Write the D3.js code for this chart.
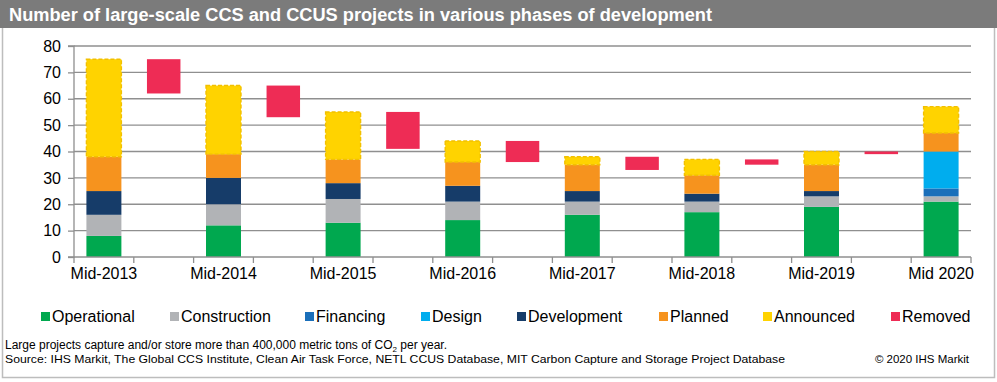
<!DOCTYPE html>
<html>
<head>
<meta charset="utf-8">
<script src="https://cdn.jsdelivr.net/npm/d3@7"></script>
<style>
  html, body { margin: 0; padding: 0; background: #fff; }
  svg { display: block; }
</style>
</head>
<body>
<svg id="chart" width="997" height="382"></svg>
<script>
// ---------- data ----------
const periods = ["Mid-2013", "Mid-2014", "Mid-2015", "Mid-2016", "Mid-2017", "Mid-2018", "Mid-2019", "Mid 2020"];
const operational  = [8, 12, 13, 14, 16, 17, 19, 21];
const construction = [8, 8, 9, 7, 5, 4, 4, 2];
const financing    = [0, 0, 0, 0, 0, 0, 0, 3];
const design       = [0, 0, 0, 0, 0, 0, 0, 14];
const development  = [9, 10, 6, 6, 4, 3, 2, 0];
const planned      = [13, 9, 9, 9, 10, 7, 10, 7];
const announced    = [37, 26, 18, 8, 3, 6, 5, 10];
// projects removed between consecutive periods
const removed      = [13, 12, 14, 8, 5, 2, 1];
const yTicks = [0, 10, 20, 30, 40, 50, 60, 70, 80];

const seriesNames = ["Operational", "Construction", "Financing", "Design", "Development", "Planned", "Announced"];
const seriesData = [operational, construction, financing, design, development, planned, announced];
const colors = {
  Operational: "#00a84f",
  Construction: "#b1b3b6",
  Financing: "#1a6fba",
  Design: "#00adee",
  Development: "#163c69",
  Planned: "#f6931e",
  Announced: "#ffd300",
  Removed: "#ee2c55"
};

// ---------- layout ----------
const svg = d3.select("#chart");
const W = 997, H = 382;
const mLeft = 74, mRight = 971, mTop = 46, mBottom = 257;

// slots: period, gap(removed), period, ...
const slots = [];
periods.forEach((p, i) => {
  slots.push("P" + i);
  if (i < periods.length - 1) slots.push("R" + i);
});
const x = d3.scaleBand().domain(slots).range([mLeft, mRight]).paddingInner(0).paddingOuter(0);
const y = d3.scaleLinear().domain([0, 80]).range([mBottom, mTop]);

// frame
svg.append("rect").attr("x", 2.5).attr("y", 0.5).attr("width", W - 5).attr("height", 377)
  .attr("fill", "none").attr("stroke", "#bdbdbd").attr("stroke-width", 1.5);
// title bar
svg.append("rect").attr("x", 0).attr("y", 0).attr("width", W).attr("height", 28).attr("fill", "#7b7b7b");
svg.append("text").attr("x", 9).attr("y", 21)
  .attr("font-family", "'Liberation Sans Narrow', 'Arial Narrow', 'Liberation Sans', Arial, sans-serif")
  .attr("font-weight", "bold").attr("font-size", 18).attr("fill", "#fff")
  .attr("textLength", 703).attr("lengthAdjust", "spacingAndGlyphs")
  .text("Number of large-scale CCS and CCUS projects in various phases of development");

// gridlines
svg.append("g").selectAll("line").data(yTicks.filter(d => d > 0)).join("line")
  .attr("x1", mLeft).attr("x2", mRight)
  .attr("y1", d => y(d)).attr("y2", d => y(d))
  .attr("stroke", "#8f8f8f").attr("stroke-width", 1.3);

// stacked bars
const table = periods.map((p, i) => {
  const o = { period: p, slot: "P" + i };
  seriesNames.forEach((s, k) => o[s] = seriesData[k][i]);
  return o;
});
const stacked = d3.stack().keys(seriesNames)(table);
const barW = x.bandwidth() * 0.585;
const bx = slot => x(slot) + (x.bandwidth() - barW) / 2;

svg.append("g").selectAll("g").data(stacked).join("g")
  .attr("fill", d => colors[d.key])
  .each(function (layer) {
    const g = d3.select(this);
    const dashed = layer.key === "Announced";
    g.selectAll("rect").data(layer.filter(d => d[1] - d[0] > 0)).join("rect")
      .attr("x", d => bx(d.data.slot))
      .attr("y", d => y(d[1]))
      .attr("width", barW)
      .attr("height", d => y(d[0]) - y(d[1]))
      .attr("stroke", dashed ? "#f2c000" : "none")
      .attr("stroke-width", dashed ? 1.4 : 0)
      .attr("stroke-dasharray", dashed ? "4,2" : null);
  });

// removed boxes: from previous total downward
const totals = table.map(d => seriesNames.reduce((a, s) => a + d[s], 0));
const remW = x.bandwidth() * 0.56;
svg.append("g").selectAll("rect").data(removed).join("rect")
  .attr("x", (d, i) => x("R" + i) + (x.bandwidth() - remW) / 2)
  .attr("y", (d, i) => y(totals[i]))
  .attr("width", remW)
  .attr("height", (d, i) => y(totals[i] - d) - y(totals[i]))
  .attr("fill", colors.Removed);

// axes
const axisColor = "#8f8f8f";
const yAxis = svg.append("g").attr("transform", `translate(${mLeft},0)`)
  .call(d3.axisLeft(y).tickValues(yTicks).tickSize(6).tickPadding(7));
const xAxis = svg.append("g").attr("transform", `translate(0,${mBottom})`);
const bounds = slots.map(s => x(s)).concat([mRight]);
xAxis.append("line").attr("x1", mLeft).attr("x2", mRight).attr("y1", 0).attr("y2", 0)
  .attr("stroke", axisColor).attr("stroke-width", 1.3);
xAxis.selectAll("line.tk").data(bounds).join("line").attr("class", "tk")
  .attr("x1", d => d).attr("x2", d => d).attr("y1", 0).attr("y2", 6)
  .attr("stroke", axisColor).attr("stroke-width", 1.3);
xAxis.selectAll("text").data(periods).join("text")
  .attr("x", (d, i) => x("P" + i) + x.bandwidth() / 2)
  .attr("y", 22)
  .attr("text-anchor", "middle")
  .attr("font-family", "'Liberation Sans', Arial, sans-serif")
  .attr("font-size", 16).attr("fill", "#000")
  .text(d => d);

yAxis.select(".domain").attr("stroke", axisColor).attr("stroke-width", 1.3)
  .attr("d", `M-6,${mBottom}H0V${mTop}H-6`);
yAxis.selectAll(".tick line").attr("stroke", axisColor).attr("stroke-width", 1.3);
yAxis.selectAll(".tick text").attr("font-family", "'Liberation Sans', Arial, sans-serif")
  .attr("font-size", 16).attr("fill", "#000");

// legend
const legendItems = seriesNames.concat(["Removed"]);
const legendX = [41, 170, 305, 421, 517, 659, 763, 891];
const lg = svg.append("g");
legendItems.forEach((name, i) => {
  lg.append("rect").attr("x", legendX[i]).attr("y", 312).attr("width", 9).attr("height", 9)
    .attr("fill", colors[name]);
  lg.append("text").attr("x", legendX[i] + 11).attr("y", 322)
    .attr("font-family", "'Liberation Sans', Arial, sans-serif")
    .attr("font-size", 16).attr("fill", "#000").text(name);
});

// footnotes
const fn = svg.append("text").attr("x", 5).attr("y", 349)
  .attr("font-family", "'Liberation Sans Narrow', 'Arial Narrow', 'Liberation Sans', Arial, sans-serif")
  .attr("font-size", 12).attr("fill", "#000");
fn.append("tspan").text("Large projects capture and/or store more than 400,000 metric tons of CO");
fn.append("tspan").attr("font-size", 8).attr("dy", 3).text("2");
fn.append("tspan").attr("dy", -3).text(" per year.");

svg.append("text").attr("x", 5).attr("y", 363)
  .attr("font-family", "'Liberation Sans', Arial, sans-serif")
  .attr("font-size", 10.5).attr("fill", "#000")
  .attr("textLength", 780).attr("lengthAdjust", "spacingAndGlyphs")
  .text("Source: IHS Markit, The Global CCS Institute, Clean Air Task Force, NETL CCUS Database, MIT Carbon Capture and Storage Project Database");
svg.append("text").attr("x", 969).attr("y", 363).attr("text-anchor", "end")
  .attr("font-family", "'Liberation Sans', Arial, sans-serif")
  .attr("font-size", 11.5).attr("fill", "#000")
  .text("© 2020 IHS Markit");
</script>
</body>
</html>
